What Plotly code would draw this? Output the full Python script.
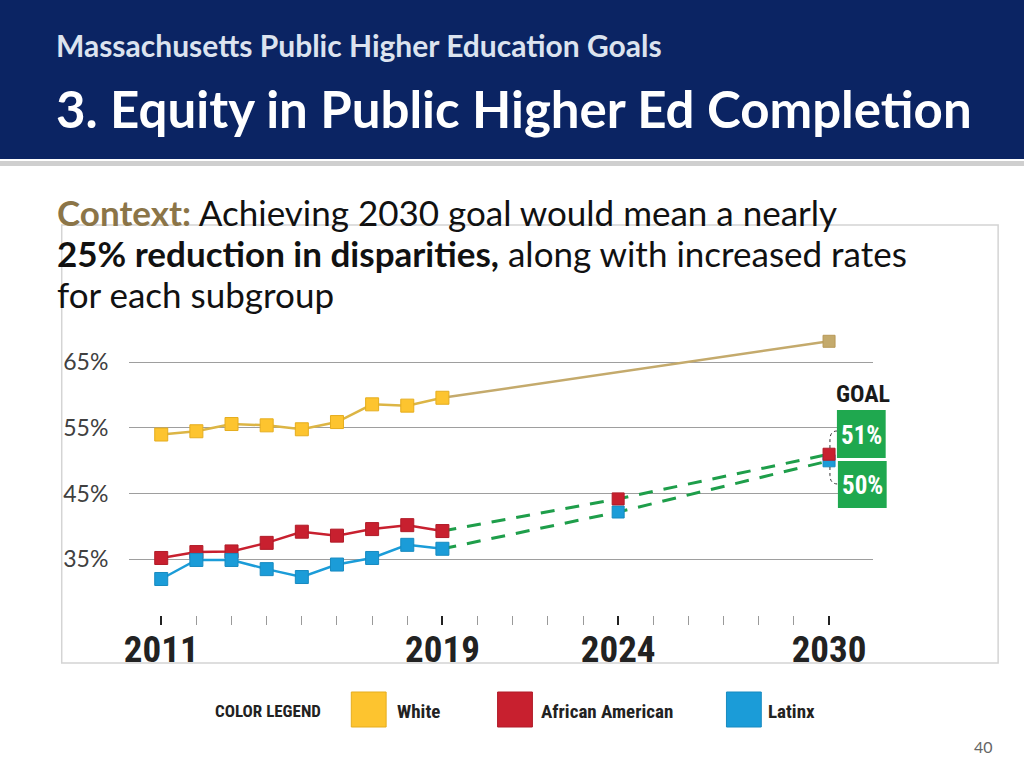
import plotly.graph_objects as go

# ---------------- data ----------------
years_hist = [2011, 2012, 2013, 2014, 2015, 2016, 2017, 2018, 2019]
white_hist = [54.0, 54.5, 55.6, 55.4, 54.8, 55.9, 58.6, 58.4, 59.6]
aa_hist = [35.2, 36.1, 36.2, 37.5, 39.2, 38.6, 39.6, 40.2, 39.3]
latinx_hist = [32.0, 34.9, 34.9, 33.5, 32.3, 34.2, 35.2, 37.2, 36.6]

years_white_goal = [2019, 2030]
white_goal = [59.6, 68.2]
years_proj = [2019, 2024, 2030]
aa_proj = [39.3, 44.2, 51.0]
latinx_proj = [36.6, 42.2, 50.0]

y_ticks = [35, 45, 55, 65]
y_ticktext = ["35%", "45%", "55%", "65%"]
x_major = [2011, 2019, 2024, 2030]
x_minor = list(range(2011, 2031))
goal_labels = ["51%", "50%"]
legend_names = ["White", "African American", "Latinx"]

YELLOW = "#fdc42f"
YELLOW_EDGE = "#e5ad1f"
WHITE_LINE = "#dcb545"
TAN = "#c4aa6c"
RED = "#c8202f"
BLUE = "#1b9cd8"
GREEN = "#1fa84f"
NAVY = "#0b2463"

W, H = 1024, 768
def px(x):
    return x / W
def py(y):
    return 1 - y / H

BODY = "Lato, 'Open Sans', sans-serif"
COND = "'Roboto Condensed', 'Noto Sans Condensed', 'Open Sans Condensed', 'DejaVu Sans Condensed', sans-serif"

fig = go.Figure()

for ys in (aa_proj, latinx_proj):
    fig.add_trace(go.Scatter(x=years_proj, y=ys, mode="lines",
                             line=dict(color="#1e9e4a", width=3, dash="14px,11px"),
                             hoverinfo="skip", showlegend=False))
fig.add_trace(go.Scatter(x=years_white_goal, y=white_goal, mode="lines",
                         line=dict(color=TAN, width=2.5), showlegend=False))
fig.add_trace(go.Scatter(x=years_white_goal[1:], y=white_goal[1:], mode="markers",
                         marker=dict(symbol="square", size=12, color=TAN, line=dict(color="#b89a58", width=1)),
                         showlegend=False))
fig.add_trace(go.Scatter(x=years_hist, y=white_hist, mode="lines+markers", name="White",
                         line=dict(color=WHITE_LINE, width=2.5),
                         marker=dict(symbol="square", size=13, color=YELLOW, line=dict(color=YELLOW_EDGE, width=1)),
                         showlegend=False))
fig.add_trace(go.Scatter(x=years_hist, y=aa_hist, mode="lines+markers", name="African American",
                         line=dict(color=RED, width=2.5),
                         marker=dict(symbol="square", size=13, color=RED, line=dict(color="#b01b28", width=1)),
                         showlegend=False))
fig.add_trace(go.Scatter(x=years_hist, y=latinx_hist, mode="lines+markers", name="Latinx",
                         line=dict(color=BLUE, width=2.5),
                         marker=dict(symbol="square", size=13, color=BLUE, line=dict(color="#178ac0", width=1)),
                         showlegend=False))
fig.add_trace(go.Scatter(x=years_proj[1:], y=latinx_proj[1:], mode="markers",
                         marker=dict(symbol="square", size=12, color=BLUE, line=dict(color="#178ac0", width=1)),
                         showlegend=False))
fig.add_trace(go.Scatter(x=years_proj[1:], y=aa_proj[1:], mode="markers",
                         marker=dict(symbol="square", size=12, color=RED, line=dict(color="#b01b28", width=1)),
                         showlegend=False))

shapes = []
shapes.append(dict(type="rect", xref="paper", yref="paper", x0=-0.01, x1=1.01, y0=py(159), y1=1.01,
                   fillcolor=NAVY, line=dict(width=0), layer="below"))
shapes.append(dict(type="rect", xref="paper", yref="paper", x0=-0.01, x1=1.01, y0=py(166), y1=py(161),
                   fillcolor="#cfcfcf", line=dict(width=0), layer="below"))
shapes.append(dict(type="rect", xref="paper", yref="paper", x0=px(57), x1=px(998), y0=py(663), y1=py(225),
                   fillcolor="rgba(0,0,0,0)", line=dict(color="#d4d4d4", width=1.5), layer="below"))
shapes.append(dict(type="rect", xref="paper", yref="paper", x0=px(836), x1=px(885), y0=py(458), y1=py(410),
                   fillcolor=GREEN, line=dict(width=0)))
shapes.append(dict(type="rect", xref="paper", yref="paper", x0=px(837), x1=px(886), y0=py(508), y1=py(461),
                   fillcolor=GREEN, line=dict(width=0)))
def P(x, y):
    return f"{px(x)},{py(y)}"
shapes.append(dict(type="path", xref="paper", yref="paper",
                   path=f"M {P(836,431)} Q {P(829,431)} {P(829,440)} L {P(829,448)}",
                   line=dict(color="#333", width=1, dash="dot")))
shapes.append(dict(type="path", xref="paper", yref="paper",
                   path=f"M {P(829,467)} L {P(829,475)} Q {P(829,484)} {P(837,484)}",
                   line=dict(color="#333", width=1, dash="dot")))
leg_sq = [(348, YELLOW, YELLOW_EDGE), (495, RED, "#b01b28"), (725, BLUE, "#178ac0")]
for x0, c, e in leg_sq:
    shapes.append(dict(type="rect", xref="paper", yref="paper", x0=px(x0), x1=px(x0 + 35),
                       y0=py(727), y1=py(692), fillcolor=c, line=dict(color=e, width=1)))

ann = []
def text(x, y, s, size, color, family, xanchor="left", yanchor="middle"):
    ann.append(dict(x=px(x), y=py(y), xref="paper", yref="paper", text=s, showarrow=False,
                    xanchor=xanchor, yanchor=yanchor, font=dict(size=size, color=color, family=family)))

text(49, 45, "<b>Massachusetts Public Higher Education Goals</b>", 30, "#dce3ef", BODY)
text(49, 108, "<b>3. Equity in Public Higher Ed Completion</b>", 51, "#ffffff", BODY)
text(50, 212, "<span style='color:#8b7548'><b>Context:</b></span> Achieving 2030 goal would mean a nearly", 35, "#111", BODY)
text(50, 253, "<b>25% reduction in disparities,</b> along with increased rates", 35, "#111", BODY)
text(50, 294, "for each subgroup", 35, "#111", BODY)

text(862, 394, "<b>GOAL</b>", 24, "#1a1a1a", COND, xanchor="center")
text(861, 435, "<b>" + goal_labels[0] + "</b>", 25, "#ffffff", COND, xanchor="center")
text(862, 485, "<b>" + goal_labels[1] + "</b>", 25, "#ffffff", COND, xanchor="center")

text(209, 711, "<b>COLOR LEGEND</b>", 17, "#222", COND)
text(392, 711, "<b>" + legend_names[0] + "</b>", 19, "#222", COND)
text(537, 711, "<b>" + legend_names[1] + "</b>", 19, "#222", COND)
text(765, 711, "<b>" + legend_names[2] + "</b>", 19, "#222", COND)
text(995, 746, "40", 16, "#666666", BODY, xanchor="right")

fig.update_layout(
    width=W, height=H,
    margin=dict(l=0, r=0, t=0, b=0),
    paper_bgcolor="white", plot_bgcolor="rgba(0,0,0,0)",
    shapes=shapes, annotations=ann, showlegend=False,
    xaxis=dict(domain=[px(125), px(872)], range=[2010.094, 2031.243],
               anchor="free", position=py(615),
               tickvals=x_major, ticktext=[f"<b>{v}</b>" for v in x_major],
               ticks="outside", ticklen=9, tickwidth=2, tickcolor="#222",
               minor=dict(tickvals=x_minor, ticks="outside", ticklen=9, tickwidth=1, tickcolor="#9a9a9a"),
               tickfont=dict(size=37, color="#222", family=COND),
               ticklabelstandoff=-7,
               showgrid=False, zeroline=False, showline=False, fixedrange=True),
    yaxis=dict(domain=[py(600), py(330)], range=[28.80, 69.92],
               tickvals=y_ticks, ticktext=y_ticktext,
               tickfont=dict(size=23, color="#404040", family=BODY),
               ticklabelstandoff=20,
               showgrid=True, gridcolor="#9e9e9e", gridwidth=1,
               zeroline=False, showline=False, fixedrange=True),
)

fig.write_html("out.html", config={"displayModeBar": False},
               post_script="document.body.style.margin='0';document.body.style.padding='0';"
                           "document.documentElement.style.overflow='hidden';")
